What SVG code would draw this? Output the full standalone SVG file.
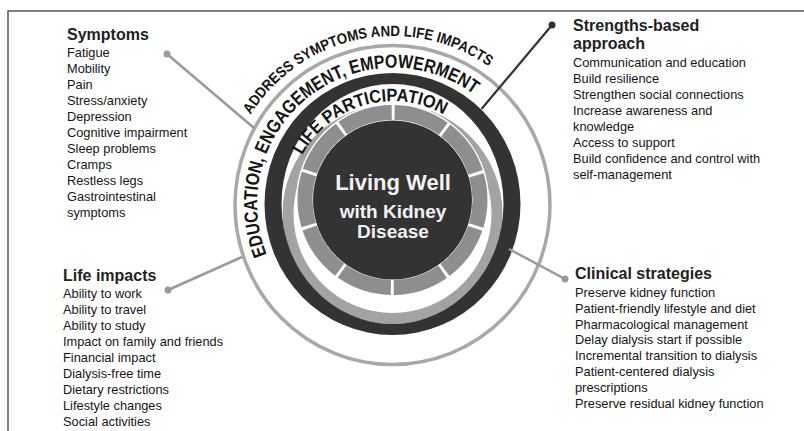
<svg xmlns="http://www.w3.org/2000/svg" width="804" height="431" viewBox="0 0 804 431">
<style>
.item{font-family:"Liberation Sans",Arial,sans-serif;font-size:12.8px;fill:#151515}
.head{font-family:"Liberation Sans",Arial,sans-serif;font-size:16px;font-weight:bold;fill:#222}
.arc{font-family:"Liberation Sans",Arial,sans-serif;font-weight:bold;fill:#151515}
.ctr{font-family:"Liberation Sans",Arial,sans-serif;font-weight:bold;fill:#f2f2f2;text-anchor:middle}
.conn{stroke:#9a9a9a;stroke-width:2.5;fill:none}
</style>
<defs>
<path id="pAddress" d="M228.8,236.2 A167,167 0 0 1 556.2,169.8"/>
<path id="pEdu" d="M285,286.3 A136,136 0 0 1 500,119.7"/>
<path id="pLife" d="M293.5,231.4 A103,103 0 0 1 491.5,174.6"/>
</defs>
<rect width="804" height="431" fill="#fff"/>
<polyline points="8,431 8,11 804,11" fill="none" stroke="#555" stroke-width="1.5"/>

<g id="wheel">
<ellipse cx="392.5" cy="205" rx="157.5" ry="159.5" fill="none" stroke="#a8a8a8" stroke-width="3.5"/>
<circle cx="392.5" cy="214" r="104.5" fill="none" stroke="#a3a3a3" stroke-width="11"/>
<path d="M264.5,204 a128,131 0 1,0 256,0 a128,131 0 1,0 -256,0 Z M281.5,204 a111,120 0 1,0 222,0 a111,120 0 1,0 -222,0 Z" fill="#333" fill-rule="evenodd"/>
<circle cx="392.5" cy="200" r="96.5" fill="#fff"/>
<circle cx="392.5" cy="200" r="87.5" fill="none" stroke="#8e8e8e" stroke-width="15" stroke-dasharray="51.978 3" stroke-dashoffset="25.989"/>
<circle cx="392.5" cy="200" r="79.5" fill="#333"/>
</g>

<g id="ring-labels">
<text class="arc" font-size="15"><textPath href="#pAddress" startOffset="50%" text-anchor="middle" textLength="272" lengthAdjust="spacingAndGlyphs">ADDRESS SYMPTOMS AND LIFE IMPACTS</textPath></text>
<text class="arc" font-size="19"><textPath href="#pEdu" startOffset="50%" text-anchor="middle" textLength="352" lengthAdjust="spacingAndGlyphs">EDUCATION, ENGAGEMENT, EMPOWERMENT</textPath></text>
<text class="arc" font-size="18"><textPath href="#pLife" startOffset="50%" text-anchor="middle" textLength="164" lengthAdjust="spacingAndGlyphs">LIFE PARTICIPATION</textPath></text>
</g>

<g id="center">
<text class="ctr" x="393" y="190" font-size="22">Living Well</text>
<text class="ctr" x="393" y="218" font-size="19">with Kidney</text>
<text class="ctr" x="393" y="238" font-size="19">Disease</text>
</g>

<g id="connectors">
<line class="conn" x1="167" y1="54" x2="254" y2="128"/>
<circle cx="167" cy="54" r="3.5" fill="#9a9a9a"/>
<line class="conn" x1="168" y1="290" x2="242" y2="257"/>
<circle cx="168" cy="290" r="3.5" fill="#9a9a9a"/>
<line x1="552" y1="25" x2="481.5" y2="109" stroke="#333" stroke-width="2.2"/>
<circle cx="552" cy="25" r="3.5" fill="#333"/>
<line class="conn" x1="565" y1="279" x2="509" y2="249"/>
<circle cx="565" cy="279" r="3.5" fill="#9a9a9a"/>
</g>

<g id="symptoms">
<text class="head" x="67" y="40">Symptoms</text>
<text class="item" x="67" y="57">Fatigue</text>
<text class="item" x="67" y="73">Mobility</text>
<text class="item" x="67" y="89">Pain</text>
<text class="item" x="67" y="105">Stress/anxiety</text>
<text class="item" x="67" y="121">Depression</text>
<text class="item" x="67" y="137">Cognitive impairment</text>
<text class="item" x="67" y="153">Sleep problems</text>
<text class="item" x="67" y="169">Cramps</text>
<text class="item" x="67" y="185">Restless legs</text>
<text class="item" x="67" y="201">Gastrointestinal</text>
<text class="item" x="67" y="217">symptoms</text>
</g>

<g id="life-impacts">
<text class="head" x="63" y="281">Life impacts</text>
<text class="item" x="63" y="298">Ability to work</text>
<text class="item" x="63" y="314">Ability to travel</text>
<text class="item" x="63" y="330">Ability to study</text>
<text class="item" x="63" y="346">Impact on family and friends</text>
<text class="item" x="63" y="362">Financial impact</text>
<text class="item" x="63" y="378">Dialysis-free time</text>
<text class="item" x="63" y="394">Dietary restrictions</text>
<text class="item" x="63" y="410">Lifestyle changes</text>
<text class="item" x="63" y="426">Social activities</text>
</g>

<g id="strengths">
<text class="head" x="573" y="31">Strengths-based</text>
<text class="head" x="573" y="49">approach</text>
<text class="item" x="573" y="67">Communication and education</text>
<text class="item" x="573" y="83">Build resilience</text>
<text class="item" x="573" y="99">Strengthen social connections</text>
<text class="item" x="573" y="115">Increase awareness and</text>
<text class="item" x="573" y="131">knowledge</text>
<text class="item" x="573" y="147">Access to support</text>
<text class="item" x="573" y="163">Build confidence and control with</text>
<text class="item" x="573" y="179">self-management</text>
</g>

<g id="clinical">
<text class="head" x="575" y="279">Clinical strategies</text>
<text class="item" x="575" y="297">Preserve kidney function</text>
<text class="item" x="575" y="312.8">Patient-friendly lifestyle and diet</text>
<text class="item" x="575" y="328.6">Pharmacological management</text>
<text class="item" x="575" y="344.4">Delay dialysis start if possible</text>
<text class="item" x="575" y="360.2">Incremental transition to dialysis</text>
<text class="item" x="575" y="376">Patient-centered dialysis</text>
<text class="item" x="575" y="391.8">prescriptions</text>
<text class="item" x="575" y="407.6">Preserve residual kidney function</text>
</g>
</svg>
